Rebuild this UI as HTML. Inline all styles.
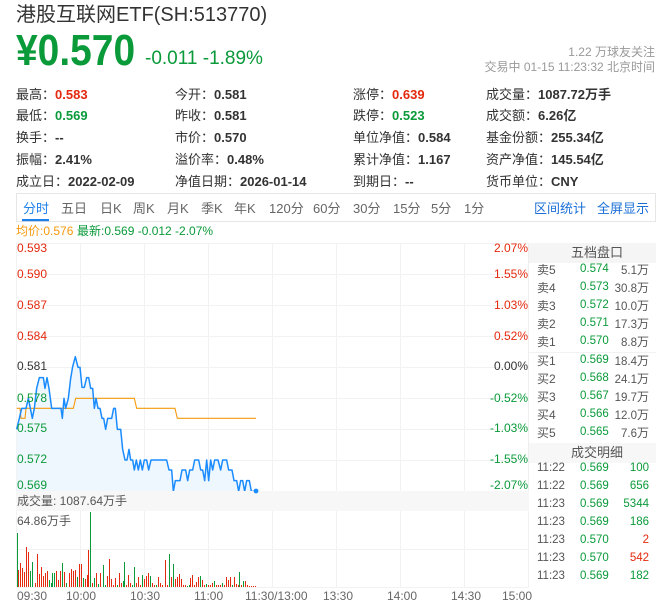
<!DOCTYPE html>
<html><head><meta charset="utf-8">
<style>
body{margin:0;width:656px;height:615px;overflow:hidden;background:#fff;font-family:"Liberation Sans","Noto Sans CJK SC",sans-serif;position:relative;color:#333}
.t{position:absolute;white-space:nowrap;line-height:1}
.r{color:#e4290e}.g{color:#0a9a3a}.d{color:#333}
.i{font-size:13px;color:#333}
.i b{font-weight:bold}
.tab{font-size:13px;color:#666;top:201.5px}
.ax{font-size:12px}
.ob{font-size:12px;color:#555}
.n{font-size:11.5px}
</style></head><body>

<svg width="656" height="615" style="position:absolute;left:0;top:0">
  <!-- tab box -->
  <rect x="16.5" y="193.5" width="639" height="28" fill="none" stroke="#e6e6e6"/>
  <rect x="22" y="219" width="27" height="2.2" fill="#1e80e8"/>
  <!-- right panel headers -->
  <rect x="529" y="243" width="127" height="20" fill="#f5f5f5"/>
  <rect x="529" y="443" width="127" height="20" fill="#f7f7f7"/>
  <line x1="529" y1="352.5" x2="656" y2="352.5" stroke="#f2f2f2"/>
  <line x1="528.5" y1="243" x2="528.5" y2="587" stroke="#eeeeee"/>
  <!-- grid -->
  <g stroke="#f2f2f2" stroke-width="1">
    <line x1="16" y1="243.5" x2="529" y2="243.5"/>
    <line x1="16" y1="274.5" x2="529" y2="274.5"/>
    <line x1="16" y1="305.5" x2="529" y2="305.5"/>
    <line x1="16" y1="336.5" x2="529" y2="336.5"/>
    <line x1="16" y1="367.5" x2="529" y2="367.5"/>
    <line x1="16" y1="398.5" x2="529" y2="398.5"/>
    <line x1="16" y1="429.5" x2="529" y2="429.5"/>
    <line x1="16" y1="460.5" x2="529" y2="460.5"/>
    <line x1="16.5" y1="243" x2="16.5" y2="491"/>
    <line x1="80.5" y1="243" x2="80.5" y2="491"/>
    <line x1="144.5" y1="243" x2="144.5" y2="491"/>
    <line x1="208.5" y1="243" x2="208.5" y2="491"/>
    <line x1="272.5" y1="243" x2="272.5" y2="491"/>
    <line x1="336.5" y1="243" x2="336.5" y2="491"/>
    <line x1="400.5" y1="243" x2="400.5" y2="491"/>
    <line x1="464.5" y1="243" x2="464.5" y2="491"/>
    <line x1="16" y1="549.5" x2="529" y2="549.5"/>
    <line x1="16" y1="587.5" x2="529" y2="587.5"/>
    <line x1="16.5" y1="511" x2="16.5" y2="587"/>
    <line x1="80.5" y1="511" x2="80.5" y2="587"/>
    <line x1="144.5" y1="511" x2="144.5" y2="587"/>
    <line x1="208.5" y1="511" x2="208.5" y2="587"/>
    <line x1="272.5" y1="511" x2="272.5" y2="587"/>
    <line x1="336.5" y1="511" x2="336.5" y2="587"/>
    <line x1="400.5" y1="511" x2="400.5" y2="587"/>
    <line x1="464.5" y1="511" x2="464.5" y2="587"/>
    <line x1="528.5" y1="511" x2="528.5" y2="587"/>
  </g>
  <!-- price chart -->
  <g transform="translate(0,330) scale(0.33333)">
    <polygon fill="#eef6fe" points="50,298 58,265 65,235 78,235 85,205 91,235 97,265 103,235 110,175 118,143 130,143 135,175 141,143 147,175 155,235 183,235 187,265 192,205 197,235 205,205 212,145 218,110 226,80 234,112 240,112 246,172 253,172 260,143 266,143 272,175 278,175 283,235 288,205 294,235 300,235 306,265 311,265 317,298 323,265 335,265 341,235 346,235 352,298 362,298 368,358 375,390 381,390 387,358 392,390 398,390 403,420 409,390 415,420 421,390 427,420 433,390 440,390 446,420 453,390 500,390 507,420 515,420 520,484 526,452 540,452 546,420 557,420 563,452 569,420 578,420 584,390 596,390 602,420 608,420 614,452 620,390 626,452 632,390 638,420 644,390 654,390 662,420 668,390 680,390 686,420 696,420 702,452 710,452 716,484 722,452 728,452 734,484 740,452 748,452 754,484 768,484 768,486 50,486"/>
    <polyline fill="none" stroke="#f59a0c" stroke-width="3.3" points="50,235 60,235 63,265 75,265 78,235 220,235 227,205 403,205 410,235 525,235 532,265 768,265"/>
    <polyline fill="none" stroke="#1a8cff" stroke-width="4.5" stroke-linejoin="round" points="50,298 58,265 65,235 78,235 85,205 91,235 97,265 103,235 110,175 118,143 130,143 135,175 141,143 147,175 155,235 183,235 187,265 192,205 197,235 205,205 212,145 218,110 226,80 234,112 240,112 246,172 253,172 260,143 266,143 272,175 278,175 283,235 288,205 294,235 300,235 306,265 311,265 317,298 323,265 335,265 341,235 346,235 352,298 362,298 368,358 375,390 381,390 387,358 392,390 398,390 403,420 409,390 415,420 421,390 427,420 433,390 440,390 446,420 453,390 500,390 507,420 515,420 520,484 526,452 540,452 546,420 557,420 563,452 569,420 578,420 584,390 596,390 602,420 608,420 614,452 620,390 626,452 632,390 638,420 644,390 654,390 662,420 668,390 680,390 686,420 696,420 702,452 710,452 716,484 722,452 728,452 734,484 740,452 748,452 754,484 768,484"/>
  </g>
  <!-- volume header band -->
  <rect x="16" y="491" width="513" height="20" fill="#f7f7f7"/>
  <circle cx="256" cy="491" r="2.4" fill="#1a8cff"/>
  <!-- volume bars -->
  <g stroke-width="1" shape-rendering="crispEdges">
    <path stroke="#e4290e" d="M18.5 570V587M20.5 563V587M22.5 568V587M24.5 572V587M26.5 547V587M28.5 552V587M35.5 583V587M37.5 554V587M39.5 574V587M41.5 567V587M43.5 576V587M45.5 573V587M47.5 571V587M56.5 571V587M58.5 580V587M60.5 571V587M64.5 572V587M69.5 573V587M71.5 569V587M73.5 571V587M75.5 570V587M79.5 564V587M81.5 564V587M85.5 579V587M87.5 575V587M88.5 550V587M92.5 583V587M96.5 573V587M100.5 573V587M107.5 576V587M109.5 559V587M111.5 579V587M113.5 585V587M115.5 578V587M119.5 573V587M121.5 583V587M126.5 585V587M128.5 575V587M130.5 583V587M136.5 583V587M138.5 577V587M140.5 585V587M144.5 579V587M146.5 576V587M148.5 573V587M152.5 583V587M154.5 585V587M158.5 577V587M160.5 583V587M162.5 585V587M165.5 560V587M167.5 585V587M171.5 577V587M175.5 579V587M177.5 577V587M179.5 574V587M181.5 579V587M183.5 585V587M185.5 585V587M190.5 578V587M192.5 575V587M194.5 585V587M196.5 582V587M198.5 577V587M202.5 580V587M204.5 585V587M208.5 585V587M210.5 585V587M212.5 583V587M216.5 585V587M218.5 585V587M220.5 585V587M224.5 585V587M226.5 577V587M228.5 580V587M230.5 577V587M234.5 577V587M236.5 584V587M238.5 585V587M241.5 585V587M245.5 581V587M247.5 585V587M249.5 586V587M251.5 586V587M253.5 586V587M255.5 586V587"/>
    <path stroke="#0a9a3a" d="M17.5 533V587M30.5 571V587M32.5 562V587M49.5 580V587M51.5 583V587M52.5 573V587M54.5 573V587M62.5 563V587M66.5 583V587M77.5 577V587M83.5 578V587M90.5 512V587M94.5 578V587M98.5 584V587M103.5 565V587M105.5 585V587M117.5 585V587M123.5 581V587M124.5 562V587M132.5 585V587M134.5 567V587M142.5 575V587M150.5 576V587M156.5 585V587M169.5 554V587M173.5 564V587M187.5 586V587M189.5 585V587M200.5 576V587M206.5 584V587M214.5 581V587M222.5 583V587M232.5 585V587M239.5 572V587M243.5 581V587"/>
  </g>
</svg>

<!-- header -->
<div class="t" style="left:16px;top:5px;font-size:20px;color:#333">港股互联网ETF(SH:513770)</div>
<div class="t g" style="left:16px;top:28.5px;font-size:44px;font-weight:bold;transform:scaleX(0.885);transform-origin:0 0">¥0.570</div>
<div class="t g" style="left:145px;top:49px;font-size:19px">-0.011 -1.89%</div>
<div class="t" style="right:1px;top:46px;font-size:12px;color:#999">1.22 万球友关注</div>
<div class="t" style="right:1px;top:61px;font-size:12px;color:#999">交易中 01-15 11:23:32 北京时间</div>

<!-- info grid -->
<div class="t i" style="left:16px;top:88px">最高：<b class="r">0.583</b></div>
<div class="t i" style="left:175px;top:88px">今开：<b>0.581</b></div>
<div class="t i" style="left:353px;top:88px">涨停：<b class="r">0.639</b></div>
<div class="t i" style="left:486px;top:88px">成交量：<b>1087.72万手</b></div>

<div class="t i" style="left:16px;top:109px">最低：<b class="g">0.569</b></div>
<div class="t i" style="left:175px;top:109px">昨收：<b>0.581</b></div>
<div class="t i" style="left:353px;top:109px">跌停：<b class="g">0.523</b></div>
<div class="t i" style="left:486px;top:109px">成交额：<b>6.26亿</b></div>

<div class="t i" style="left:16px;top:130.5px">换手：<b>--</b></div>
<div class="t i" style="left:175px;top:130.5px">市价：<b>0.570</b></div>
<div class="t i" style="left:353px;top:130.5px">单位净值：<b>0.584</b></div>
<div class="t i" style="left:486px;top:130.5px">基金份额：<b>255.34亿</b></div>

<div class="t i" style="left:16px;top:152.5px">振幅：<b>2.41%</b></div>
<div class="t i" style="left:175px;top:152.5px">溢价率：<b>0.48%</b></div>
<div class="t i" style="left:353px;top:152.5px">累计净值：<b>1.167</b></div>
<div class="t i" style="left:486px;top:152.5px">资产净值：<b>145.54亿</b></div>

<div class="t i" style="left:16px;top:174.5px">成立日：<b>2022-02-09</b></div>
<div class="t i" style="left:175px;top:174.5px">净值日期：<b>2026-01-14</b></div>
<div class="t i" style="left:353px;top:174.5px">到期日：<b>--</b></div>
<div class="t i" style="left:486px;top:174.5px">货币单位：<b>CNY</b></div>

<!-- tabs -->
<div class="t tab" style="left:23px;color:#1e80e8">分时</div>
<div class="t tab" style="left:61px">五日</div>
<div class="t tab" style="left:100px">日K</div>
<div class="t tab" style="left:133px">周K</div>
<div class="t tab" style="left:167px">月K</div>
<div class="t tab" style="left:201px">季K</div>
<div class="t tab" style="left:234px">年K</div>
<div class="t tab" style="left:269px">120分</div>
<div class="t tab" style="left:313px">60分</div>
<div class="t tab" style="left:353px">30分</div>
<div class="t tab" style="left:393px">15分</div>
<div class="t tab" style="left:431px">5分</div>
<div class="t tab" style="left:464px">1分</div>
<div class="t tab" style="left:534px;color:#1a6fd6">区间统计</div>
<div class="t tab" style="left:597px;color:#1a6fd6">全屏显示</div>

<div class="t" style="left:16px;top:225px;font-size:12px;color:#f59a0c">均价:0.576</div>
<div class="t g" style="left:77px;top:225px;font-size:12px">最新:0.569 -0.012 -2.07%</div>

<!-- left axis -->
<div class="t ax r" style="left:17px;top:242px">0.593</div>
<div class="t ax r" style="left:17px;top:268px">0.590</div>
<div class="t ax r" style="left:17px;top:299px">0.587</div>
<div class="t ax r" style="left:17px;top:330px">0.584</div>
<div class="t ax d" style="left:17px;top:360px">0.581</div>
<div class="t ax g" style="left:17px;top:392px">0.578</div>
<div class="t ax g" style="left:17px;top:422px">0.575</div>
<div class="t ax g" style="left:17px;top:453px">0.572</div>
<div class="t ax g" style="left:17px;top:479px">0.569</div>

<!-- right axis -->
<div class="t ax r" style="right:128px;top:242px">2.07%</div>
<div class="t ax r" style="right:128px;top:268px">1.55%</div>
<div class="t ax r" style="right:128px;top:299px">1.03%</div>
<div class="t ax r" style="right:128px;top:330px">0.52%</div>
<div class="t ax d" style="right:128px;top:360px">0.00%</div>
<div class="t ax g" style="right:128px;top:392px">-0.52%</div>
<div class="t ax g" style="right:128px;top:422px">-1.03%</div>
<div class="t ax g" style="right:128px;top:453px">-1.55%</div>
<div class="t ax g" style="right:128px;top:479px">-2.07%</div>

<!-- volume labels -->
<div class="t" style="left:17px;top:495px;font-size:12px;color:#555">成交量: 1087.64万手</div>
<div class="t" style="left:17px;top:515px;font-size:12px;color:#555">64.86万手</div>
<div class="t" style="left:17px;top:590px;font-size:12px;color:#666">09:30</div>
<div class="t" style="left:66px;top:590px;font-size:12px;color:#666">10:00</div>
<div class="t" style="left:130px;top:590px;font-size:12px;color:#666">10:30</div>
<div class="t" style="left:194px;top:590px;font-size:12px;color:#666">11:00</div>
<div class="t" style="left:245px;top:590px;font-size:12px;color:#666">11:30/13:00</div>
<div class="t" style="left:323px;top:590px;font-size:12px;color:#666">13:30</div>
<div class="t" style="left:387px;top:590px;font-size:12px;color:#666">14:00</div>
<div class="t" style="left:451px;top:590px;font-size:12px;color:#666">14:30</div>
<div class="t" style="left:502px;top:590px;font-size:12px;color:#666">15:00</div>

<!-- order book -->
<div class="t ob" style="left:571px;top:246px;font-size:13px">五档盘口</div>
<div class="t ob" style="left:537px;top:264px">卖5</div><div class="t n g" style="left:580px;top:264px">0.574</div><div class="t ob" style="right:7px;top:264px"><span class="n">5.1</span>万</div>
<div class="t ob" style="left:537px;top:282px">卖4</div><div class="t n g" style="left:580px;top:282px">0.573</div><div class="t ob" style="right:7px;top:282px"><span class="n">30.8</span>万</div>
<div class="t ob" style="left:537px;top:300px">卖3</div><div class="t n g" style="left:580px;top:300px">0.572</div><div class="t ob" style="right:7px;top:300px"><span class="n">10.0</span>万</div>
<div class="t ob" style="left:537px;top:318px">卖2</div><div class="t n g" style="left:580px;top:318px">0.571</div><div class="t ob" style="right:7px;top:318px"><span class="n">17.3</span>万</div>
<div class="t ob" style="left:537px;top:336px">卖1</div><div class="t n g" style="left:580px;top:336px">0.570</div><div class="t ob" style="right:7px;top:336px"><span class="n">8.8</span>万</div>
<div class="t ob" style="left:537px;top:355px">买1</div><div class="t n g" style="left:580px;top:355px">0.569</div><div class="t ob" style="right:7px;top:355px"><span class="n">18.4</span>万</div>
<div class="t ob" style="left:537px;top:373px">买2</div><div class="t n g" style="left:580px;top:373px">0.568</div><div class="t ob" style="right:7px;top:373px"><span class="n">24.1</span>万</div>
<div class="t ob" style="left:537px;top:391px">买3</div><div class="t n g" style="left:580px;top:391px">0.567</div><div class="t ob" style="right:7px;top:391px"><span class="n">19.7</span>万</div>
<div class="t ob" style="left:537px;top:409px">买4</div><div class="t n g" style="left:580px;top:409px">0.566</div><div class="t ob" style="right:7px;top:409px"><span class="n">12.0</span>万</div>
<div class="t ob" style="left:537px;top:427px">买5</div><div class="t n g" style="left:580px;top:427px">0.565</div><div class="t ob" style="right:7px;top:427px"><span class="n">7.6</span>万</div>

<div class="t ob" style="left:571px;top:446px;font-size:13px">成交明细</div>
<div class="t ob n" style="left:537px;top:463px">11:22</div><div class="t n g" style="left:580px;top:463px">0.569</div><div class="t n g" style="right:7px;top:463px">100</div>
<div class="t ob n" style="left:537px;top:481px">11:22</div><div class="t n g" style="left:580px;top:481px">0.569</div><div class="t n g" style="right:7px;top:481px">656</div>
<div class="t ob n" style="left:537px;top:499px">11:23</div><div class="t n g" style="left:580px;top:499px">0.569</div><div class="t n g" style="right:7px;top:499px">5344</div>
<div class="t ob n" style="left:537px;top:517px">11:23</div><div class="t n g" style="left:580px;top:517px">0.569</div><div class="t n g" style="right:7px;top:517px">186</div>
<div class="t ob n" style="left:537px;top:535px">11:23</div><div class="t n g" style="left:580px;top:535px">0.570</div><div class="t n r" style="right:7px;top:535px">2</div>
<div class="t ob n" style="left:537px;top:553px">11:23</div><div class="t n g" style="left:580px;top:553px">0.570</div><div class="t n r" style="right:7px;top:553px">542</div>
<div class="t ob n" style="left:537px;top:571px">11:23</div><div class="t n g" style="left:580px;top:571px">0.569</div><div class="t n g" style="right:7px;top:571px">182</div>

</body></html>
